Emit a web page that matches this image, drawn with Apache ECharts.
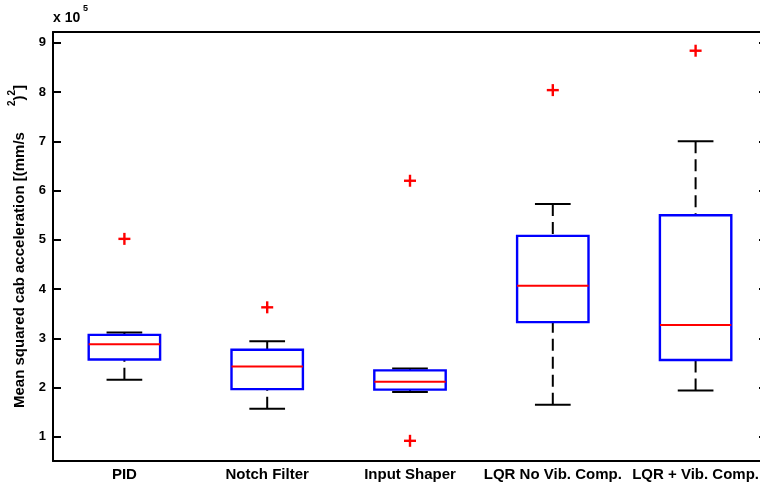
<!DOCTYPE html>
<html>
<head>
<meta charset="utf-8">
<script src="https://cdn.jsdelivr.net/npm/echarts@6/dist/echarts.min.js"></script>
<style>
  html, body { margin: 0; padding: 0; background: #fff; }
  #chart { width: 760px; height: 487px; }
</style>
</head>
<body>
<div id="chart"></div>
<script>
// Mean squared cab acceleration per controller, in units of 1e5 (mm/s^2)^2
const categories = ['PID', 'Notch Filter', 'Input Shaper', 'LQR No Vib. Comp.', 'LQR + Vib. Comp.'];
const whiskerLow  = [2.16, 1.57, 1.91, 1.65, 1.94];
const quartile1   = [2.57, 1.97, 1.96, 3.33, 2.56];
const medians     = [2.88, 2.43, 2.12, 4.07, 3.27];
const quartile3   = [3.07, 2.77, 2.35, 5.08, 5.50];
const whiskerHigh = [3.12, 2.94, 2.39, 5.73, 7.00];
// outliers as [category index, value]
const outliers = [[0, 5.02], [1, 3.63], [2, 6.20], [2, 0.92], [3, 8.04], [4, 8.84]];
const yTicks = [1, 2, 3, 4, 5, 6, 7, 8, 9];

const FONT = '"Liberation Sans", Arial, Helvetica, sans-serif';

const boxData = categories.map((c, i) =>
  [i, whiskerLow[i], quartile1[i], medians[i], quartile3[i], whiskerHigh[i]]);

const chart = echarts.init(document.getElementById('chart'), null, { renderer: 'canvas' });

const axisLineStyle = { color: '#000', width: 2 };
const tickStyle = { color: '#000', width: 2 };

chart.setOption({
  animation: false,
  backgroundColor: '#fff',
  // the frame runs slightly past the right edge of the canvas
  grid: { left: 53, top: 32, width: 714, bottom: 26, outerBoundsMode: 'none', containLabel: false },
  xAxis: [
    {
      type: 'category',
      data: categories,
      boundaryGap: true,
      axisLine: { lineStyle: axisLineStyle },
      axisTick: { inside: true, alignWithLabel: true, length: 8, lineStyle: tickStyle },
      axisLabel: { color: '#000', fontFamily: FONT, fontWeight: 'bold', fontSize: 15, margin: 6, interval: 0 },
      splitLine: { show: false }
    },
    {
      type: 'category',
      position: 'top',
      data: categories,
      boundaryGap: true,
      axisLine: { lineStyle: axisLineStyle },
      axisTick: { inside: true, alignWithLabel: true, length: 8, lineStyle: tickStyle },
      axisLabel: { show: false },
      splitLine: { show: false }
    }
  ],
  yAxis: [
    {
      type: 'value',
      min: 0.51,
      max: 9.22,
      axisLine: { show: true, lineStyle: axisLineStyle },
      axisTick: { show: true, inside: true, length: 8, customValues: yTicks, lineStyle: tickStyle },
      axisLabel: { customValues: yTicks, color: '#000', fontFamily: FONT, fontWeight: 'bold', fontSize: 13, margin: 7 },
      splitLine: { show: false },
      name: '{t|Mean squared cab acceleration [(mm/s}{g|}{s|2}{t|)}{s|2}{t|]}',
      nameLocation: 'middle',
      nameRotate: 90,
      nameGap: 26,
      nameTextStyle: {
        rich: {
          t: { fontFamily: FONT, fontWeight: 'bold', fontSize: 15, color: '#000', lineHeight: 20, verticalAlign: 'bottom' },
          g: { width: 26, lineHeight: 20 },
          s: { fontFamily: FONT, fontWeight: 'bold', fontSize: 10, color: '#000', lineHeight: 20, verticalAlign: 'top' }
        }
      }
    },
    {
      type: 'value',
      position: 'right',
      min: 0.51,
      max: 9.22,
      axisLine: { show: true, lineStyle: axisLineStyle },
      axisTick: { show: true, inside: true, length: 8, customValues: yTicks, lineStyle: tickStyle },
      axisLabel: { show: false },
      splitLine: { show: false }
    }
  ],
  graphic: [
    {
      type: 'text',
      left: 53,
      top: 11,
      style: { text: 'x 10', fontFamily: FONT, fontWeight: 'bold', fontSize: 14, fill: '#000' }
    },
    {
      type: 'text',
      left: 83,
      top: 4,
      style: { text: '5', fontFamily: FONT, fontWeight: 'bold', fontSize: 9, fill: '#000' }
    }
  ],
  series: [
    {
      type: 'custom',
      name: 'box',
      xAxisIndex: 0,
      yAxisIndex: 0,
      data: boxData,
      encode: { x: 0, y: [1, 2, 3, 4, 5] },
      renderItem: function (params, api) {
        const idx = api.value(0);
        const pLow = api.coord([idx, api.value(1)]);
        const pQ1 = api.coord([idx, api.value(2)]);
        const pMed = api.coord([idx, api.value(3)]);
        const pQ3 = api.coord([idx, api.value(4)]);
        const pHigh = api.coord([idx, api.value(5)]);
        const band = api.size([1, 0])[0];
        const cx = pQ1[0];
        const bw = band * 0.5;
        const cw = band * 0.25;
        const dash = { stroke: '#000', lineWidth: 2, lineDash: [12, 6], fill: null };
        const solid = { stroke: '#000', lineWidth: 2, fill: null };
        return {
          type: 'group',
          children: [
            { type: 'line', shape: { x1: cx, y1: pHigh[1], x2: cx, y2: pQ3[1] }, style: dash },
            { type: 'line', shape: { x1: cx, y1: pLow[1], x2: cx, y2: pQ1[1] }, style: dash },
            { type: 'line', shape: { x1: cx - cw / 2, y1: pHigh[1], x2: cx + cw / 2, y2: pHigh[1] }, style: solid },
            { type: 'line', shape: { x1: cx - cw / 2, y1: pLow[1], x2: cx + cw / 2, y2: pLow[1] }, style: solid },
            {
              type: 'rect',
              shape: { x: cx - bw / 2, y: pQ3[1], width: bw, height: pQ1[1] - pQ3[1] },
              style: { stroke: '#0000ff', lineWidth: 2.4, fill: 'rgba(0,0,0,0)' }
            },
            {
              type: 'line',
              shape: { x1: cx - bw / 2, y1: pMed[1], x2: cx + bw / 2, y2: pMed[1] },
              style: { stroke: '#ff0000', lineWidth: 2 }
            }
          ]
        };
      }
    },
    {
      type: 'custom',
      name: 'outliers',
      xAxisIndex: 0,
      yAxisIndex: 0,
      data: outliers,
      encode: { x: 0, y: 1 },
      renderItem: function (params, api) {
        const p = api.coord([api.value(0), api.value(1)]);
        const h = 6;
        const st = { stroke: '#ff0000', lineWidth: 2.4 };
        return {
          type: 'group',
          children: [
            { type: 'line', shape: { x1: p[0] - h, y1: p[1], x2: p[0] + h, y2: p[1] }, style: st },
            { type: 'line', shape: { x1: p[0], y1: p[1] - h, x2: p[0], y2: p[1] + h }, style: st }
          ]
        };
      }
    }
  ]
});
</script>
</body>
</html>
